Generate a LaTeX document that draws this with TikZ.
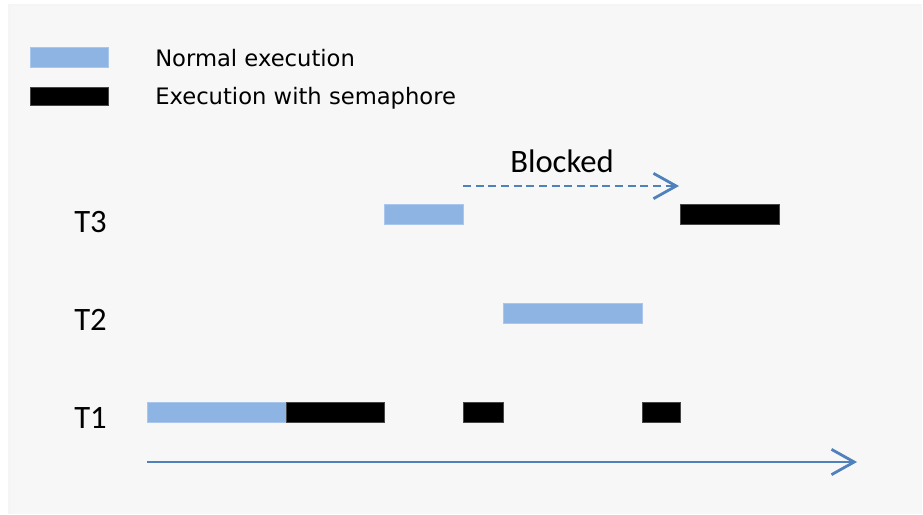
\documentclass[tikz,border=0pt]{standalone}
\usepackage{fontspec}
\setmainfont{Carlito}
\newfontfamily\legendfont{DejaVu Sans}
\usetikzlibrary{arrows.meta}
\definecolor{panelgray}{RGB}{247,247,247}
\definecolor{normalblue}{RGB}{141,180,226}
\definecolor{normaledge}{RGB}{170,198,234}
\definecolor{lineblue}{RGB}{79,129,189}
\definecolor{semaedge}{RGB}{70,70,70}
\begin{document}
\begin{tikzpicture}[x=0.75pt,y=-0.75pt,
  normalbar/.style={fill=normalblue,draw=normaledge,line width=0.4pt},
  semabar/.style={fill=black,draw=semaedge,line width=0.4pt},
  legendtext/.style={anchor=base west,inner sep=0pt,font=\legendfont\fontsize{17}{19}\selectfont},
  tasklabel/.style={anchor=base west,inner sep=0pt,font=\fontsize{24.5}{28}\selectfont},
  flowline/.style={draw=lineblue,line width=2.1pt,-{Straight Barb[length=17pt,width=19pt,line width=2.1pt]}}]
  % canvas and panel
  \useasboundingbox (0,0) rectangle (923,514);
  \fill[white] (0,0) rectangle (923,514);
  \fill[black!4] (8,4) rectangle (922,514);
  \fill[panelgray] (11,6) rectangle (921,514);

  % legend
  \draw[normalbar] (30,47) rectangle (108,67);
  \draw[semabar] (30,87) rectangle (108,105);
  \node[legendtext] (lgnormal) at (155,66) {Normal execution};
  \node[legendtext] (lgsema) at (155,104) {Execution with semaphore};

  % task labels
  \node[tasklabel] (t3) at (74,232) {T3};
  \node[tasklabel] (t2) at (74,330) {T2};
  \node[tasklabel] (t1) at (74,428) {T1};

  % T3 activity
  \draw[normalbar] (384,204) rectangle (463,224);
  \draw[semabar] (680,204) rectangle (779,224);

  % T2 activity
  \draw[normalbar] (503,303) rectangle (642,323);

  % T1 activity
  \draw[normalbar] (147,402) rectangle (286,422);
  \draw[semabar] (286,402) rectangle (384,422);
  \draw[semabar] (463,402) rectangle (503,422);
  \draw[semabar] (642,402) rectangle (680,422);

  % blocked interval of T3
  \coordinate (blockstart) at (463,186);
  \coordinate (blockend) at (679,186);
  \draw[flowline,dash pattern=on 6pt off 3.5pt] (blockstart) -- (blockend);
  \node[tasklabel] (blocked) at (510,172) {Blocked};

  % time axis
  \coordinate (tstart) at (147,462);
  \coordinate (tend) at (857,462);
  \draw[flowline] (tstart) -- (tend);
\end{tikzpicture}
\end{document}
